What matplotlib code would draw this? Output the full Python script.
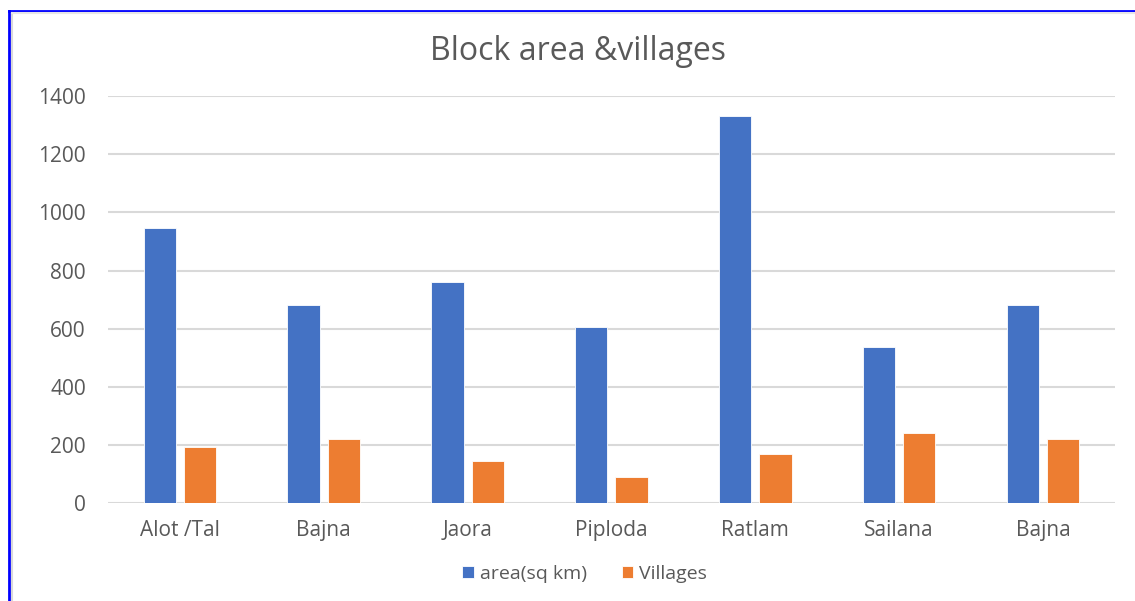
import matplotlib.pyplot as plt
from matplotlib.lines import Line2D
import numpy as np

plt.rcParams['font.family'] = ['Open Sans', 'DejaVu Sans']

# Data
blocks = ["Alot /Tal", "Bajna", "Jaora", "Piploda", "Ratlam", "Sailana", "Bajna"]
area_sq_km = [946, 681, 760, 605, 1332, 537, 681]
villages = [193, 220, 144, 89, 168, 241, 220]

blue = "#4472c4"
orange = "#ed7d31"
text_grey = "#595959"

fig = plt.figure(figsize=(11.35, 6.01), dpi=100)
ax = fig.add_axes([0.0952, 0.163, 0.887, 0.677])

x = np.arange(len(blocks))
w = 0.225
ax.bar(x - 0.14, area_sq_km, w, color=blue, edgecolor="white", linewidth=0.6,
       label="area(sq km)", zorder=3)
ax.bar(x + 0.14, villages, w, color=orange, edgecolor="white", linewidth=0.6,
       label="Villages", zorder=3)

ax.set_xlim(-0.5, len(blocks) - 0.5)
ax.set_ylim(0, 1400)
ax.set_yticks(range(0, 1401, 200))
ax.set_xticks(x)
ax.set_xticklabels(blocks)
ax.yaxis.grid(True, color="#d9d9d9", linewidth=1.5, zorder=0)
for s in ax.spines.values():
    s.set_visible(False)
ax.tick_params(length=0, labelsize=15, colors=text_grey)
ax.tick_params(axis="y", pad=16)
ax.tick_params(axis="x", pad=12)

fig.text(0.509, 0.915, "Block area &villages", ha="center", va="center",
         fontsize=23, color=text_grey)

fig.legend(loc="center", bbox_to_anchor=(0.515, 0.045), ncol=2, frameon=False,
           fontsize=14, labelcolor=text_grey, handlelength=0.6, handleheight=0.6,
           columnspacing=1.8, handletextpad=0.3)

# Blue frame of the screenshot (top and left edges)
fig.add_artist(Line2D([0.0075, 0.0075], [0, 0.982], transform=fig.transFigure,
                      color="#0000ff", linewidth=2))
fig.add_artist(Line2D([0.0075, 1], [0.982, 0.982], transform=fig.transFigure,
                      color="#0000ff", linewidth=2))
fig.add_artist(Line2D([0.0105, 0.0105], [0, 0.978], transform=fig.transFigure,
                      color="#d9d9d9", linewidth=1.5))
fig.add_artist(Line2D([0.0105, 1], [0.978, 0.978], transform=fig.transFigure,
                      color="#e6e6e6", linewidth=1.5))

fig.savefig("out.png", dpi=100)
